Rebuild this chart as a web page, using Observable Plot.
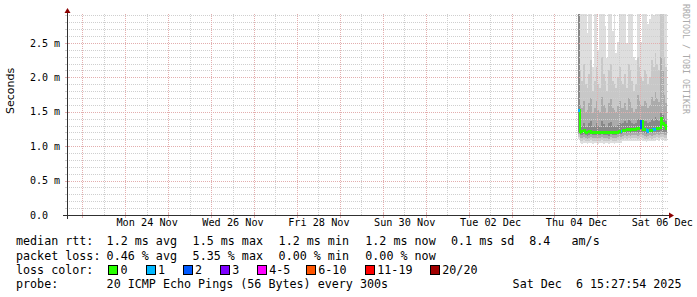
<!DOCTYPE html>
<html><head><meta charset="utf-8">
<script src="https://cdn.jsdelivr.net/npm/d3@7"></script>
<script src="https://cdn.jsdelivr.net/npm/@observablehq/plot@0.6"></script>
<style>
html,body{margin:0;padding:0;background:#fff;}
#wrap{position:relative;width:697px;height:297px;overflow:hidden;background:#fff;}
#wrap svg{position:absolute;left:0;top:0;}
.t{position:absolute;font-family:"DejaVu Sans Mono",monospace;font-size:11.7px;line-height:14px;white-space:pre;color:#000;}
.box{position:absolute;width:8px;height:8px;border:1px solid #000;}
.wm{position:absolute;left:681px;top:4px;writing-mode:vertical-rl;font-family:"DejaVu Sans Mono",monospace;font-size:8.3px;color:#aaa;white-space:pre;line-height:10px;}
</style></head><body><div id="wrap"></div><script>
// ---- time range & sampling ----
const rangeStart = new Date("2025-11-22T15:27:54Z");
const rangeEnd   = new Date("2025-12-06T15:27:54Z");
const firstSample = new Date("2025-12-04T13:00:00Z");
const stepMs = 3600 * 1000;

// ---- median RTT (ms) and lost pings per hourly sample ----
const medianRtt = [1.53,1.21,1.22,1.23,1.21,1.20,1.22,1.21,1.20,1.20, 1.20,1.21,1.20,1.20,1.20,1.21,1.20,1.20,1.21,1.20, 1.20,1.21,1.21,1.22,1.22,1.24,1.24,1.25,1.25,1.24, 1.25,1.25,1.25,1.26,1.26,1.36,1.25,1.25,1.23,1.22, 1.24,1.24,1.25,1.25,1.26,1.27,1.41,1.33,1.31,1.26];
const lostPings = [1,0,0,0,0,0,0,0,0,0, 0,0,0,0,0,0,0,0,0,0, 0,0,0,0,1,0,0,0,0,0, 0,0,0,0,0,2,0,0,1,1, 0,0,1,1,0,0,0,0,0,0];

// ---- smoke bands (ms): outer -> inner ----
const smokeHiA = [3.0,3.0,3.0,3.0,3.0,2.65,3.0,3.0,2.15,3.0, 3.0,2.40,3.0,3.0,3.0,2.75,2.28,3.0,3.0,2.68, 3.0,2.36,2.52,3.0,3.0,3.0,3.0,2.50,3.0,3.0, 3.0,2.30,2.25,3.0,3.0,2.52,3.0,3.0,3.0,2.78, 2.85,3.0,2.90,3.0,3.0,3.0,3.0,3.0,3.0,3.0];
const smokeLoA = [1.10,1.04,1.03,1.05,1.04,1.03,1.04,1.05,1.03,1.04, 1.04,1.03,1.04,1.05,1.03,1.04,1.04,1.03,1.05,1.04, 1.03,1.04,1.05,1.04,1.05,1.07,1.08,1.07,1.08,1.07, 1.08,1.07,1.08,1.07,1.08,1.09,1.08,1.07,1.06,1.07, 1.08,1.07,1.08,1.08,1.09,1.08,1.10,1.09,1.08,1.08];
const smokeHiB = [3.0,2.10,1.95,2.20,1.90,1.85,2.05,2.25,1.80,1.95, 2.15,1.90,1.85,2.30,2.05,1.95,1.80,2.10,2.20,1.95, 1.90,1.85,2.00,2.15,1.95,1.90,2.05,1.85,2.20,2.10, 1.95,1.80,1.90,2.30,2.15,2.00,1.95,2.10,2.05,1.90, 2.00,2.25,2.15,2.35,2.20,2.10,3.0,3.0,2.30,2.15];
const smokeLoB = [1.14,1.08,1.08,1.09,1.08,1.07,1.08,1.09,1.08,1.08, 1.08,1.08,1.08,1.09,1.08,1.08,1.08,1.07,1.09,1.08, 1.08,1.08,1.09,1.09,1.10,1.11,1.12,1.11,1.12,1.11, 1.12,1.12,1.12,1.11,1.12,1.13,1.12,1.11,1.10,1.11, 1.12,1.11,1.12,1.12,1.13,1.12,1.14,1.13,1.12,1.12];
const smokeHiC = [3.0,1.60,1.55,1.65,1.50,1.52,1.62,1.70,1.48,1.55, 1.66,1.52,1.50,1.72,1.60,1.55,1.48,1.62,1.68,1.55, 1.52,1.50,1.58,1.65,1.55,1.55,1.62,1.52,1.70,1.64, 1.56,1.50,1.54,1.75,1.66,1.60,1.58,1.65,1.62,1.55, 1.60,1.72,1.66,1.80,1.70,1.64,2.30,2.10,1.75,1.62];
const smokeLoC = [1.17,1.12,1.12,1.13,1.12,1.11,1.12,1.13,1.12,1.12, 1.12,1.12,1.12,1.13,1.12,1.12,1.12,1.11,1.13,1.12, 1.12,1.12,1.13,1.13,1.14,1.15,1.16,1.15,1.16,1.15, 1.16,1.16,1.16,1.15,1.16,1.17,1.16,1.15,1.14,1.15, 1.16,1.15,1.16,1.16,1.17,1.16,1.18,1.17,1.16,1.16];
const smokeHiD = [3.0,1.32,1.30,1.34,1.28,1.29,1.33,1.36,1.28,1.30, 1.34,1.29,1.28,1.37,1.32,1.30,1.28,1.33,1.35,1.30, 1.29,1.28,1.31,1.34,1.32,1.33,1.36,1.33,1.38,1.36, 1.34,1.32,1.33,1.40,1.38,1.37,1.34,1.37,1.36,1.33, 1.35,1.39,1.37,1.42,1.39,1.37,1.48,1.45,1.40,1.36];
const smokeLoD = [1.20,1.16,1.16,1.17,1.16,1.15,1.16,1.17,1.16,1.16, 1.16,1.16,1.16,1.17,1.16,1.16,1.16,1.15,1.17,1.16, 1.16,1.16,1.17,1.17,1.18,1.19,1.20,1.19,1.20,1.19, 1.20,1.20,1.20,1.19,1.20,1.21,1.20,1.19,1.18,1.19, 1.20,1.19,1.20,1.20,1.21,1.20,1.22,1.21,1.20,1.20];
const smokeColors = ["#dedede","#c8c8c8","#ababab","#888888"];

// ---- loss colour legend ----
const lossLabels = ["0","1","2","3","4-5","6-10","11-19","20/20"];
const lossColors = ["#26ff00","#00b8ff","#0059ff","#7e00ff","#ff00ff","#ff5500","#ff0000","#a10000"];

// ---- axis ticks ----
const xLabelTimes = ["2025-11-24T12:00:00Z","2025-11-26T12:00:00Z","2025-11-28T12:00:00Z","2025-11-30T12:00:00Z","2025-12-02T12:00:00Z","2025-12-04T12:00:00Z","2025-12-06T12:00:00Z"];
const xLabelTexts = ["Mon 24 Nov","Wed 26 Nov","Fri 28 Nov","Sun 30 Nov","Tue 02 Dec","Thu 04 Dec","Sat 06 Dec"];
const yMajorTicks = [0, 0.5, 1.0, 1.5, 2.0, 2.5];
const yTickLabels = ["0.0","0.5 m","1.0 m","1.5 m","2.0 m","2.5 m"];
const yMinorStep = 0.1;
const yMax = 2.92;

// ---- legend texts ----
const rttLegend = ["median rtt:","1.2 ms avg","1.5 ms max","1.2 ms min","1.2 ms now","0.1 ms sd","8.4   am/s"];
const lossLegend = ["packet loss:","0.46 % avg","5.35 % max","0.00 % min","0.00 % now"];
const probeLegend = ["probe:","20 ICMP Echo Pings (56 Bytes) every 300s","Sat Dec  6 15:27:54 2025"];
const watermark = "RRDTOOL / TOBI OETIKER";

// ---- build ----
const sampleTime = i => new Date(+firstSample + i * stepMs);
function lossBin(n){ return n===0?0 : n===1?1 : n===2?2 : n===3?3 : n<=5?4 : n<=10?5 : n<=19?6 : 7; }
const bands = [[smokeLoA,smokeHiA],[smokeLoB,smokeHiB],[smokeLoC,smokeHiC],[smokeLoD,smokeHiD]];
const smokeRows = bands.flatMap(([lo,hi],k) => hi.map((h,i) => ({t0: sampleTime(i), t1: sampleTime(i+1), lo: lo[i], hi: h, color: smokeColors[k]})));
const medRows = medianRtt.map((m,i) => ({t0: sampleTime(i), t1: sampleTime(i+1), med: m, color: lossColors[lossBin(lostPings[i])]}));
const connRows = medianRtt.slice(1).map((m,j) => ({t: sampleTime(j+1), a: medianRtt[j], b: m, color: lossColors[lossBin(lostPings[j+1])]}));

const majorX = d3.utcDay.range(rangeStart, rangeEnd);
const minorX = d3.utcHour.every(12).range(rangeStart, rangeEnd).filter(d => d.getUTCHours() === 12);
const minorY = d3.range(1, Math.floor(yMax / yMinorStep) + 1).map(k => +(k * yMinorStep).toFixed(2)).filter(v => !yMajorTicks.some(m => Math.abs(m - v) < 1e-9));
const majorY = yMajorTicks.filter(v => v > 0);

const W = 697, H = 297, mL = 67, mR = 29, mT = 14, mB = 82;
const pxT = (rangeEnd - rangeStart) / (W - mL - mR);
const pxY = yMax / (H - mB - mT);
const gridCol = "#cfcfcf", mgridCol = "#e3aeae", axisCol = "#303030", arrowCol = "#8b0000";

const plot = Plot.plot({
  width: W, height: H, marginLeft: mL, marginRight: mR, marginTop: mT, marginBottom: mB,
  x: {type: "utc", domain: [rangeStart, rangeEnd], axis: null},
  y: {domain: [0, yMax], axis: null},
  color: {type: "identity"},
  style: {background: "transparent", fontFamily: "DejaVu Sans Mono", color: "#000", overflow: "visible"},
  marks: [
    Plot.rect(smokeRows, {x1: "t0", x2: "t1", y1: "lo", y2: "hi", fill: "color", clip: true, shapeRendering: "crispEdges"}),
    Plot.ruleX(minorX, {stroke: gridCol, strokeDasharray: "1,1", shapeRendering: "crispEdges"}),
    Plot.ruleY(minorY, {stroke: gridCol, strokeDasharray: "1,1", shapeRendering: "crispEdges"}),
    Plot.ruleX(majorX, {stroke: mgridCol, strokeDasharray: "1,1", shapeRendering: "crispEdges"}),
    Plot.ruleY(majorY, {stroke: mgridCol, strokeDasharray: "1,1", shapeRendering: "crispEdges"}),
    Plot.ruleX(connRows, {x: "t", y1: "a", y2: "b", stroke: "color", strokeWidth: 2, strokeLinecap: "square", shapeRendering: "crispEdges"}),
    Plot.ruleY(medRows, {y: "med", x1: "t0", x2: "t1", stroke: "color", strokeWidth: 3, shapeRendering: "crispEdges"}),
    // axis tick marks
    Plot.ruleX(minorX, {y1: -1 * pxY, y2: 1 * pxY, stroke: gridCol, shapeRendering: "crispEdges"}),
    Plot.ruleX(majorX, {y1: -3 * pxY, y2: 2 * pxY, stroke: mgridCol, shapeRendering: "crispEdges"}),
    Plot.ruleY(minorY, {x1: new Date(+rangeStart - 2 * pxT), x2: rangeStart, stroke: gridCol, shapeRendering: "crispEdges"}),
    Plot.ruleY(majorY, {x1: new Date(+rangeStart - 2 * pxT), x2: new Date(+rangeStart + 2 * pxT), stroke: mgridCol, shapeRendering: "crispEdges"}),
    // axes
    Plot.ruleY([0], {x1: new Date(+rangeStart - 4 * pxT), x2: new Date(+rangeEnd + 2 * pxT), stroke: axisCol, shapeRendering: "crispEdges"}),
    Plot.ruleX([rangeStart], {y1: -4 * pxY, y2: yMax + 1 * pxY, stroke: axisCol, shapeRendering: "crispEdges"}),
    // labels
    Plot.text(xLabelTimes.map((t, i) => ({t: new Date(t), s: xLabelTexts[i]})), {x: "t", text: "s", frameAnchor: "bottom", dy: 10, fontSize: 10.2, fill: "#000"}),
    Plot.text(yMajorTicks.map((v, i) => ({v, s: yTickLabels[i]})), {y: "v", text: "s", frameAnchor: "left", textAnchor: "start", dx: -37.5, fontSize: 10, fill: "#000"}),
    Plot.text(["Seconds"], {frameAnchor: "left", dx: -57, dy: -1, rotate: -90, fontFamily: "DejaVu Sans", fontSize: 11, fill: "#000"})
  ]
});

const wrap = document.getElementById("wrap");
wrap.appendChild(plot);

// arrows, positioned from the plot's scales
const X = plot.scale("x"), Y = plot.scale("y");
const ax = X.apply(rangeStart) + 0.5, ay = Y.apply(0) + 0.5, topY = Y.apply(yMax), rightX = X.apply(rangeEnd);
const svg = d3.select(plot);
svg.append("path").attr("d", `M${ax-3},${topY-1}L${ax+3},${topY-1}L${ax},${topY-6}Z`).attr("fill", arrowCol);
svg.append("path").attr("d", `M${rightX+1},${ay-3}L${rightX+1},${ay+3}L${rightX+6},${ay}Z`).attr("fill", arrowCol);

// legend (HTML text)
function addText(x, cy, s){ const d = document.createElement("div"); d.className = "t"; d.style.left = (x - 0.7) + "px"; d.style.top = (cy - 6.9) + "px"; d.textContent = s; wrap.appendChild(d); }
const colX = [16.7, 107.3, 193.3, 279.3, 366, 451.7, 530];
rttLegend.forEach((s, i) => addText(colX[i], 240.7, s));
lossLegend.forEach((s, i) => addText(colX[i], 255.7, s));
addText(16.7, 269.5, "loss color:");
const boxX = [108.3, 145.7, 182.7, 220, 257, 306, 365, 430];
lossLabels.forEach((s, i) => {
  const b = document.createElement("div"); b.className = "box";
  b.style.left = Math.round(boxX[i]) + "px"; b.style.top = "265px"; b.style.background = lossColors[i];
  wrap.appendChild(b);
  addText(boxX[i] + 13, 269.5, s);
});
addText(16.7, 284.3, probeLegend[0]);
addText(107.3, 284.3, probeLegend[1]);
addText(513.3, 284.3, probeLegend[2]);
const wm = document.createElement("div"); wm.className = "wm"; wm.textContent = watermark; wrap.appendChild(wm);
</script></body></html>
